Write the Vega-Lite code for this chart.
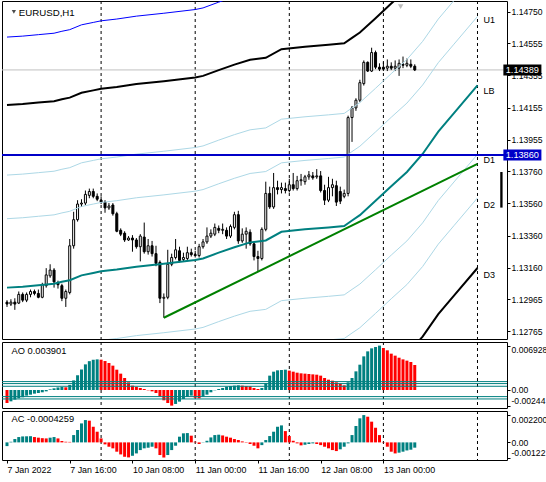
{
  "$schema": "https://vega.github.io/schema/vega-lite/v6.json",
  "background": "white",
  "padding": 0,
  "bounds": "flush",
  "spacing": 3,
  "config": {
    "font": "Liberation Sans",
    "view": {"stroke": "black", "strokeWidth": 1},
    "axis": {"labelFont": "Liberation Sans", "labelFontSize": 8.6, "labelColor": "black", "tickColor": "black", "tickSize": 3, "labelPadding": 1, "domain": false, "grid": false}
  },
  "datasets": {
    "seps": [{"i": 24}, {"i": 48}, {"i": 72}, {"i": 96}, {"i": 120}],
    "candles": [
      {"i":0,"o":1.12947,"h":1.12959,"l":1.12917,"c":1.12935},
      {"i":1,"o":1.12935,"h":1.12965,"l":1.12923,"c":1.12947},
      {"i":2,"o":1.12947,"h":1.12971,"l":1.12899,"c":1.12935},
      {"i":3,"o":1.12941,"h":1.13013,"l":1.12935,"c":1.12995},
      {"i":4,"o":1.12995,"h":1.13007,"l":1.12947,"c":1.12959},
      {"i":5,"o":1.12959,"h":1.13007,"l":1.12947,"c":1.12995},
      {"i":6,"o":1.12995,"h":1.13025,"l":1.12977,"c":1.13013},
      {"i":7,"o":1.13013,"h":1.13025,"l":1.12989,"c":1.13001},
      {"i":8,"o":1.13001,"h":1.13025,"l":1.12971,"c":1.12977},
      {"i":9,"o":1.12977,"h":1.13067,"l":1.12971,"c":1.13055},
      {"i":10,"o":1.13049,"h":1.13158,"l":1.13037,"c":1.13116},
      {"i":11,"o":1.1311,"h":1.13182,"l":1.13098,"c":1.13146},
      {"i":12,"o":1.13146,"h":1.13158,"l":1.13037,"c":1.13073},
      {"i":13,"o":1.13067,"h":1.1308,"l":1.13031,"c":1.13055},
      {"i":14,"o":1.13049,"h":1.13061,"l":1.12953,"c":1.12971},
      {"i":15,"o":1.12971,"h":1.13025,"l":1.12917,"c":1.13013},
      {"i":16,"o":1.13007,"h":1.13339,"l":1.12995,"c":1.13297},
      {"i":17,"o":1.13297,"h":1.13508,"l":1.13279,"c":1.13459},
      {"i":18,"o":1.13459,"h":1.1358,"l":1.13447,"c":1.13556},
      {"i":19,"o":1.13556,"h":1.13586,"l":1.13538,"c":1.13562},
      {"i":20,"o":1.13562,"h":1.1364,"l":1.1355,"c":1.13616},
      {"i":21,"o":1.1361,"h":1.13652,"l":1.13592,"c":1.13634},
      {"i":22,"o":1.13634,"h":1.13652,"l":1.13592,"c":1.13604},
      {"i":23,"o":1.13604,"h":1.13622,"l":1.13574,"c":1.13586},
      {"i":24,"o":1.1358,"h":1.13604,"l":1.13556,"c":1.13568},
      {"i":25,"o":1.13568,"h":1.1358,"l":1.13502,"c":1.13532},
      {"i":26,"o":1.13532,"h":1.13562,"l":1.1352,"c":1.13544},
      {"i":27,"o":1.1355,"h":1.13562,"l":1.13484,"c":1.13496},
      {"i":28,"o":1.13496,"h":1.13508,"l":1.13381,"c":1.13387},
      {"i":29,"o":1.13393,"h":1.13405,"l":1.13357,"c":1.13369},
      {"i":30,"o":1.13375,"h":1.13387,"l":1.13321,"c":1.13333},
      {"i":31,"o":1.13333,"h":1.13357,"l":1.13327,"c":1.13345},
      {"i":32,"o":1.13345,"h":1.13363,"l":1.1326,"c":1.13333},
      {"i":33,"o":1.13333,"h":1.13345,"l":1.13279,"c":1.13291},
      {"i":34,"o":1.13291,"h":1.13369,"l":1.132,"c":1.13357},
      {"i":35,"o":1.13351,"h":1.13441,"l":1.13248,"c":1.1326},
      {"i":36,"o":1.1326,"h":1.13339,"l":1.13242,"c":1.13297},
      {"i":37,"o":1.13297,"h":1.13327,"l":1.1323,"c":1.13248},
      {"i":38,"o":1.13248,"h":1.13297,"l":1.1317,"c":1.13188},
      {"i":39,"o":1.13194,"h":1.13206,"l":1.12941,"c":1.12971},
      {"i":40,"o":1.12971,"h":1.13001,"l":1.1285,"c":1.12977},
      {"i":41,"o":1.12977,"h":1.13272,"l":1.12965,"c":1.13182},
      {"i":42,"o":1.13182,"h":1.13248,"l":1.1317,"c":1.13224},
      {"i":43,"o":1.13224,"h":1.13339,"l":1.13212,"c":1.13272},
      {"i":44,"o":1.13266,"h":1.13291,"l":1.13194,"c":1.13206},
      {"i":45,"o":1.13212,"h":1.13254,"l":1.132,"c":1.13224},
      {"i":46,"o":1.13218,"h":1.13291,"l":1.13206,"c":1.13254},
      {"i":47,"o":1.13254,"h":1.13279,"l":1.1323,"c":1.13242},
      {"i":48,"o":1.13242,"h":1.13266,"l":1.13224,"c":1.13236},
      {"i":49,"o":1.13236,"h":1.13309,"l":1.13224,"c":1.13291},
      {"i":50,"o":1.13291,"h":1.13339,"l":1.13279,"c":1.13321},
      {"i":51,"o":1.13321,"h":1.13411,"l":1.13309,"c":1.13357},
      {"i":52,"o":1.13357,"h":1.13399,"l":1.13345,"c":1.13375},
      {"i":53,"o":1.13369,"h":1.13435,"l":1.13357,"c":1.13411},
      {"i":54,"o":1.13405,"h":1.13423,"l":1.13375,"c":1.13393},
      {"i":55,"o":1.13393,"h":1.13435,"l":1.13369,"c":1.13399},
      {"i":56,"o":1.13393,"h":1.13411,"l":1.13339,"c":1.13357},
      {"i":57,"o":1.13357,"h":1.13429,"l":1.13345,"c":1.13417},
      {"i":58,"o":1.13411,"h":1.13508,"l":1.13399,"c":1.1349},
      {"i":59,"o":1.1349,"h":1.13514,"l":1.13309,"c":1.13327},
      {"i":60,"o":1.13327,"h":1.13405,"l":1.13315,"c":1.13369},
      {"i":61,"o":1.13369,"h":1.13411,"l":1.13279,"c":1.13387},
      {"i":62,"o":1.13381,"h":1.13399,"l":1.13297,"c":1.13309},
      {"i":63,"o":1.13309,"h":1.13321,"l":1.13206,"c":1.1323},
      {"i":64,"o":1.1323,"h":1.13266,"l":1.13135,"c":1.13218},
      {"i":65,"o":1.13218,"h":1.13411,"l":1.13206,"c":1.13399},
      {"i":66,"o":1.13399,"h":1.13695,"l":1.13387,"c":1.13622},
      {"i":67,"o":1.13622,"h":1.13664,"l":1.13526,"c":1.13538},
      {"i":68,"o":1.13538,"h":1.13749,"l":1.13526,"c":1.13658},
      {"i":69,"o":1.13658,"h":1.13701,"l":1.13616,"c":1.13646},
      {"i":70,"o":1.13646,"h":1.13689,"l":1.13622,"c":1.13658},
      {"i":71,"o":1.13652,"h":1.13689,"l":1.13622,"c":1.1364},
      {"i":72,"o":1.1364,"h":1.13713,"l":1.13628,"c":1.13676},
      {"i":73,"o":1.13676,"h":1.13749,"l":1.1364,"c":1.13652},
      {"i":74,"o":1.13652,"h":1.13731,"l":1.1364,"c":1.13701},
      {"i":75,"o":1.13701,"h":1.13743,"l":1.1367,"c":1.13707},
      {"i":76,"o":1.13695,"h":1.13737,"l":1.13676,"c":1.13725},
      {"i":77,"o":1.13725,"h":1.13761,"l":1.13707,"c":1.13737},
      {"i":78,"o":1.13731,"h":1.13755,"l":1.13707,"c":1.13719},
      {"i":79,"o":1.13725,"h":1.13773,"l":1.13713,"c":1.13731},
      {"i":80,"o":1.13731,"h":1.13761,"l":1.13628,"c":1.1364},
      {"i":81,"o":1.1364,"h":1.13676,"l":1.1355,"c":1.1358},
      {"i":82,"o":1.1358,"h":1.13725,"l":1.13568,"c":1.13658},
      {"i":83,"o":1.13658,"h":1.13713,"l":1.13604,"c":1.13676},
      {"i":84,"o":1.1367,"h":1.13701,"l":1.13544,"c":1.13568},
      {"i":85,"o":1.13634,"h":1.13664,"l":1.13556,"c":1.13574},
      {"i":86,"o":1.13604,"h":1.13646,"l":1.13592,"c":1.13622},
      {"i":87,"o":1.13622,"h":1.14105,"l":1.13604,"c":1.14093},
      {"i":88,"o":1.14093,"h":1.14165,"l":1.13942,"c":1.14153},
      {"i":89,"o":1.14153,"h":1.14213,"l":1.14135,"c":1.14201},
      {"i":90,"o":1.14201,"h":1.14328,"l":1.14189,"c":1.1431},
      {"i":91,"o":1.14304,"h":1.14448,"l":1.14292,"c":1.14436},
      {"i":92,"o":1.14436,"h":1.14442,"l":1.14376,"c":1.14382},
      {"i":93,"o":1.14382,"h":1.14527,"l":1.14376,"c":1.14497},
      {"i":94,"o":1.14497,"h":1.14509,"l":1.14394,"c":1.14406},
      {"i":95,"o":1.14406,"h":1.1443,"l":1.14382,"c":1.14394},
      {"i":96,"o":1.14406,"h":1.14436,"l":1.14382,"c":1.14394},
      {"i":97,"o":1.144,"h":1.14454,"l":1.14382,"c":1.14412},
      {"i":98,"o":1.14412,"h":1.14436,"l":1.14388,"c":1.144},
      {"i":99,"o":1.144,"h":1.14448,"l":1.14382,"c":1.14412},
      {"i":100,"o":1.144,"h":1.14454,"l":1.14352,"c":1.1443},
      {"i":101,"o":1.14424,"h":1.14472,"l":1.144,"c":1.14418},
      {"i":102,"o":1.14418,"h":1.1446,"l":1.14406,"c":1.1443},
      {"i":103,"o":1.14424,"h":1.14454,"l":1.144,"c":1.14412},
      {"i":104,"o":1.14412,"h":1.14424,"l":1.14382,"c":1.14389}
    ],
    "bands": [
      {"i":0,"lb":1.13037,"blue":1.14593,"up2":1.14171,"ua":1.13736,"u1":1.13465,"d1":1.12609,"d2":1.12338,"d3":1.11903},
      {"i":4,"lb":1.13043,"blue":1.14599,"up2":1.14177,"ua":1.13742,"u1":1.13471,"d1":1.12615,"d2":1.12344,"d3":1.11909},
      {"i":8,"lb":1.13052,"blue":1.14608,"up2":1.14186,"ua":1.13751,"u1":1.1348,"d1":1.12624,"d2":1.12353,"d3":1.11918},
      {"i":12,"lb":1.13061,"blue":1.14617,"up2":1.14195,"ua":1.1376,"u1":1.13489,"d1":1.12633,"d2":1.12362,"d3":1.11927},
      {"i":14,"lb":1.13073,"blue":1.14629,"up2":1.14207,"ua":1.13772,"u1":1.13501,"d1":1.12645,"d2":1.12374,"d3":1.11939},
      {"i":16,"lb":1.13083,"blue":1.14639,"up2":1.14217,"ua":1.13782,"u1":1.13511,"d1":1.12655,"d2":1.12384,"d3":1.11949},
      {"i":19,"lb":1.13113,"blue":1.14669,"up2":1.14247,"ua":1.13812,"u1":1.13541,"d1":1.12685,"d2":1.12414,"d3":1.11979},
      {"i":22,"lb":1.13128,"blue":1.14684,"up2":1.14262,"ua":1.13827,"u1":1.13556,"d1":1.127,"d2":1.12429,"d3":1.11994},
      {"i":24,"lb":1.13138,"blue":1.14694,"up2":1.14272,"ua":1.13837,"u1":1.13566,"d1":1.1271,"d2":1.12439,"d3":1.12004},
      {"i":28,"lb":1.13149,"blue":1.14705,"up2":1.14283,"ua":1.13848,"u1":1.13577,"d1":1.12721,"d2":1.1245,"d3":1.12015},
      {"i":33,"lb":1.13167,"blue":1.14723,"up2":1.14301,"ua":1.13866,"u1":1.13595,"d1":1.12739,"d2":1.12468,"d3":1.12033},
      {"i":40,"lb":1.13185,"blue":1.14741,"up2":1.14319,"ua":1.13884,"u1":1.13613,"d1":1.12757,"d2":1.12486,"d3":1.12051},
      {"i":48,"lb":1.13208,"blue":1.14764,"up2":1.14342,"ua":1.13907,"u1":1.13636,"d1":1.1278,"d2":1.12509,"d3":1.12074},
      {"i":50,"lb":1.13218,"blue":1.14774,"up2":1.14352,"ua":1.13917,"u1":1.13646,"d1":1.1279,"d2":1.12519,"d3":1.12084},
      {"i":54,"lb":1.13254,"blue":1.1481,"up2":1.14388,"ua":1.13953,"u1":1.13682,"d1":1.12826,"d2":1.12555,"d3":1.1212},
      {"i":58,"lb":1.13288,"blue":1.14844,"up2":1.14422,"ua":1.13987,"u1":1.13716,"d1":1.1286,"d2":1.12589,"d3":1.12154},
      {"i":62,"lb":1.13318,"blue":1.14874,"up2":1.14452,"ua":1.14017,"u1":1.13746,"d1":1.1289,"d2":1.12619,"d3":1.12184},
      {"i":66,"lb":1.1333,"blue":1.14886,"up2":1.14464,"ua":1.14029,"u1":1.13758,"d1":1.12902,"d2":1.12631,"d3":1.12196},
      {"i":70,"lb":1.13384,"blue":1.1494,"up2":1.14518,"ua":1.14083,"u1":1.13812,"d1":1.12956,"d2":1.12685,"d3":1.1225},
      {"i":76,"lb":1.13399,"blue":1.14955,"up2":1.14533,"ua":1.14098,"u1":1.13827,"d1":1.12971,"d2":1.127,"d3":1.12265},
      {"i":82,"lb":1.13411,"blue":1.14967,"up2":1.14545,"ua":1.1411,"u1":1.13839,"d1":1.12983,"d2":1.12712,"d3":1.12277},
      {"i":86,"lb":1.1342,"blue":1.14976,"up2":1.14554,"ua":1.14119,"u1":1.13848,"d1":1.12992,"d2":1.12721,"d3":1.12286},
      {"i":88,"lb":1.13454,"blue":1.1501,"up2":1.14588,"ua":1.14153,"u1":1.13882,"d1":1.13026,"d2":1.12755,"d3":1.1232},
      {"i":90,"lb":1.13487,"blue":1.15043,"up2":1.14621,"ua":1.14186,"u1":1.13915,"d1":1.13059,"d2":1.12788,"d3":1.12353},
      {"i":94,"lb":1.13576,"blue":1.15132,"up2":1.1471,"ua":1.14275,"u1":1.14004,"d1":1.13148,"d2":1.12877,"d3":1.12442},
      {"i":98,"lb":1.13667,"blue":1.15223,"up2":1.14801,"ua":1.14366,"u1":1.14095,"d1":1.13239,"d2":1.12968,"d3":1.12533},
      {"i":102,"lb":1.13755,"blue":1.15311,"up2":1.14889,"ua":1.14454,"u1":1.14183,"d1":1.13327,"d2":1.13056,"d3":1.12621},
      {"i":106,"lb":1.13867,"blue":1.15423,"up2":1.15001,"ua":1.14566,"u1":1.14295,"d1":1.13439,"d2":1.13168,"d3":1.12733},
      {"i":110,"lb":1.14006,"blue":1.15562,"up2":1.1514,"ua":1.14705,"u1":1.14434,"d1":1.13578,"d2":1.13307,"d3":1.12872},
      {"i":114,"lb":1.14121,"blue":1.15677,"up2":1.15255,"ua":1.1482,"u1":1.14549,"d1":1.13693,"d2":1.13422,"d3":1.12987},
      {"i":120,"lb":1.14293,"blue":1.15849,"up2":1.15427,"ua":1.14992,"u1":1.14721,"d1":1.13865,"d2":1.13594,"d3":1.13159}
    ],
    "ao": [
      {"i":0,"v":-0.00203,"up":false},{"i":1,"v":-0.00177,"up":true},{"i":2,"v":-0.00151,"up":true},{"i":3,"v":-0.0013,"up":true},
      {"i":4,"v":-0.00114,"up":true},{"i":5,"v":-0.00088,"up":true},{"i":6,"v":-0.00073,"up":true},{"i":7,"v":-0.00057,"up":true},
      {"i":8,"v":-0.00047,"up":true},{"i":9,"v":-0.00036,"up":true},{"i":10,"v":-0.00021,"up":true},{"i":11,"v":0.0001,"up":true},
      {"i":12,"v":0.00026,"up":true},{"i":13,"v":0.0004,"up":true},{"i":14,"v":0.00047,"up":true},{"i":15,"v":0.00042,"up":false},
      {"i":16,"v":0.0008,"up":true},{"i":17,"v":0.0015,"up":true},{"i":18,"v":0.0023,"up":true},{"i":19,"v":0.0032,"up":true},
      {"i":20,"v":0.004,"up":true},{"i":21,"v":0.0045,"up":true},{"i":22,"v":0.00472,"up":true},{"i":23,"v":0.00478,"up":true},
      {"i":24,"v":0.00473,"up":false},{"i":25,"v":0.00452,"up":false},{"i":26,"v":0.00421,"up":false},{"i":27,"v":0.0038,"up":false},
      {"i":28,"v":0.00317,"up":false},{"i":29,"v":0.00255,"up":false},{"i":30,"v":0.00187,"up":false},{"i":31,"v":0.0012,"up":false},
      {"i":32,"v":0.00068,"up":false},{"i":33,"v":0.00047,"up":false},{"i":34,"v":0.00031,"up":false},{"i":35,"v":0.00016,"up":false},
      {"i":36,"v":-0.00005,"up":false},{"i":37,"v":-0.00021,"up":false},{"i":38,"v":-0.00047,"up":false},{"i":39,"v":-0.00099,"up":false},
      {"i":40,"v":-0.00161,"up":false},{"i":41,"v":-0.00203,"up":false},{"i":42,"v":-0.00244,"up":false},{"i":43,"v":-0.00218,"up":true},
      {"i":44,"v":-0.00182,"up":true},{"i":45,"v":-0.0014,"up":true},{"i":46,"v":-0.00109,"up":true},{"i":47,"v":-0.00088,"up":true},
      {"i":48,"v":-0.0012,"up":false},{"i":49,"v":-0.0013,"up":false},{"i":50,"v":-0.00104,"up":true},{"i":51,"v":-0.00073,"up":true},
      {"i":52,"v":-0.00036,"up":true},{"i":53,"v":-0.00005,"up":true},{"i":54,"v":0.00016,"up":true},{"i":55,"v":0.00031,"up":true},
      {"i":56,"v":0.00052,"up":true},{"i":57,"v":0.00062,"up":true},{"i":58,"v":0.00068,"up":true},{"i":59,"v":0.00073,"up":true},
      {"i":60,"v":0.00068,"up":false},{"i":61,"v":0.00062,"up":false},{"i":62,"v":0.00057,"up":false},{"i":63,"v":0.00031,"up":false},
      {"i":64,"v":0.00016,"up":false},{"i":65,"v":0.00031,"up":true},{"i":66,"v":0.00109,"up":true},{"i":67,"v":0.00224,"up":true},
      {"i":68,"v":0.00286,"up":true},{"i":69,"v":0.00307,"up":true},{"i":70,"v":0.00312,"up":true},{"i":71,"v":0.00317,"up":true},
      {"i":72,"v":0.00302,"up":false},{"i":73,"v":0.00286,"up":false},{"i":74,"v":0.0027,"up":false},{"i":75,"v":0.0026,"up":false},
      {"i":76,"v":0.00255,"up":false},{"i":77,"v":0.0025,"up":false},{"i":78,"v":0.00244,"up":false},{"i":79,"v":0.00239,"up":false},
      {"i":80,"v":0.00224,"up":false},{"i":81,"v":0.00187,"up":false},{"i":82,"v":0.00161,"up":false},{"i":83,"v":0.00146,"up":false},
      {"i":84,"v":0.0012,"up":false},{"i":85,"v":0.00094,"up":false},{"i":86,"v":0.00073,"up":false},{"i":87,"v":0.0012,"up":true},
      {"i":88,"v":0.00187,"up":true},{"i":89,"v":0.00291,"up":true},{"i":90,"v":0.00395,"up":true},{"i":91,"v":0.00525,"up":true},
      {"i":92,"v":0.00603,"up":true},{"i":93,"v":0.0065,"up":true},{"i":94,"v":0.00671,"up":true},{"i":95,"v":0.006928,"up":true},
      {"i":96,"v":0.00655,"up":false},{"i":97,"v":0.00619,"up":false},{"i":98,"v":0.00567,"up":false},{"i":99,"v":0.00536,"up":false},
      {"i":100,"v":0.00504,"up":false},{"i":101,"v":0.00478,"up":false},{"i":102,"v":0.00458,"up":false},{"i":103,"v":0.00437,"up":false},
      {"i":104,"v":0.003901,"up":false}
    ],
    "ac": [
      {"i":0,"v":-0.0003,"up":true},{"i":1,"v":0.00005,"up":true},{"i":2,"v":0.00027,"up":true},{"i":3,"v":0.00043,"up":true},
      {"i":4,"v":0.00048,"up":true},{"i":5,"v":0.00049,"up":true},{"i":6,"v":0.0005,"up":true},{"i":7,"v":0.00043,"up":false},
      {"i":8,"v":0.00038,"up":false},{"i":9,"v":0.00034,"up":false},{"i":10,"v":0.00032,"up":false},{"i":11,"v":0.00038,"up":true},
      {"i":12,"v":0.00043,"up":true},{"i":13,"v":0.00032,"up":false},{"i":14,"v":0.00011,"up":false},{"i":15,"v":0.00005,"up":false},
      {"i":16,"v":0.00004,"up":false},{"i":17,"v":0.00059,"up":true},{"i":18,"v":0.001,"up":true},{"i":19,"v":0.00153,"up":true},
      {"i":20,"v":0.0018,"up":true},{"i":21,"v":0.00175,"up":false},{"i":22,"v":0.00126,"up":false},{"i":23,"v":0.00086,"up":false},
      {"i":24,"v":0.00032,"up":false},{"i":25,"v":-0.00016,"up":false},{"i":26,"v":-0.00035,"up":false},{"i":27,"v":-0.00048,"up":false},
      {"i":28,"v":-0.00075,"up":false},{"i":29,"v":-0.00097,"up":false},{"i":30,"v":-0.00116,"up":false},{"i":31,"v":-0.00121,"up":false},
      {"i":32,"v":-0.00108,"up":true},{"i":33,"v":-0.00089,"up":true},{"i":34,"v":-0.00062,"up":true},{"i":35,"v":-0.00048,"up":true},
      {"i":36,"v":-0.00043,"up":true},{"i":37,"v":-0.00035,"up":true},{"i":38,"v":-0.00048,"up":false},{"i":39,"v":-0.00102,"up":false},
      {"i":40,"v":-0.00122,"up":false},{"i":41,"v":-0.00102,"up":true},{"i":42,"v":-0.00062,"up":true},{"i":43,"v":-0.00027,"up":true},
      {"i":44,"v":0.00046,"up":true},{"i":45,"v":0.00073,"up":true},{"i":46,"v":0.00075,"up":true},{"i":47,"v":0.00054,"up":false},
      {"i":48,"v":0.00005,"up":false},{"i":49,"v":-0.00013,"up":false},{"i":50,"v":0.00002,"up":true},{"i":51,"v":0.00013,"up":true},
      {"i":52,"v":0.0004,"up":true},{"i":53,"v":0.00059,"up":true},{"i":54,"v":0.00062,"up":true},{"i":55,"v":0.00056,"up":false},
      {"i":56,"v":0.00046,"up":false},{"i":57,"v":0.00038,"up":false},{"i":58,"v":0.00027,"up":false},{"i":59,"v":0.00019,"up":false},
      {"i":60,"v":0.00008,"up":false},{"i":61,"v":-0.00003,"up":false},{"i":62,"v":-0.00013,"up":false},{"i":63,"v":-0.00027,"up":false},
      {"i":64,"v":-0.00048,"up":false},{"i":65,"v":-0.00022,"up":true},{"i":66,"v":0.00019,"up":true},{"i":67,"v":0.00051,"up":true},
      {"i":68,"v":0.00086,"up":true},{"i":69,"v":0.00126,"up":true},{"i":70,"v":0.00137,"up":true},{"i":71,"v":0.00091,"up":false},
      {"i":72,"v":0.00051,"up":false},{"i":73,"v":0.00013,"up":false},{"i":74,"v":-0.00008,"up":false},{"i":75,"v":-0.00024,"up":false},
      {"i":76,"v":-0.00019,"up":true},{"i":77,"v":-0.00013,"up":true},{"i":78,"v":-0.00008,"up":true},{"i":79,"v":-0.00013,"up":false},
      {"i":80,"v":-0.00022,"up":false},{"i":81,"v":-0.00035,"up":false},{"i":82,"v":-0.00048,"up":false},{"i":83,"v":-0.00062,"up":false},
      {"i":84,"v":-0.0007,"up":false},{"i":85,"v":-0.00056,"up":true},{"i":86,"v":-0.00035,"up":true},{"i":87,"v":-0.00008,"up":true},
      {"i":88,"v":0.00059,"up":true},{"i":89,"v":0.00132,"up":true},{"i":90,"v":0.00194,"up":true},{"i":91,"v":0.0022,"up":true},
      {"i":92,"v":0.00207,"up":false},{"i":93,"v":0.00167,"up":false},{"i":94,"v":0.00118,"up":false},{"i":95,"v":0.00059,"up":false},
      {"i":96,"v":-0.00003,"up":false},{"i":97,"v":-0.00035,"up":false},{"i":98,"v":-0.00075,"up":false},{"i":99,"v":-0.00089,"up":false},
      {"i":100,"v":-0.00083,"up":true},{"i":101,"v":-0.00075,"up":true},{"i":102,"v":-0.00065,"up":true},{"i":103,"v":-0.00059,"up":true},
      {"i":104,"v":-0.0004259,"up":true}
    ]
  },
  "vconcat": [
    {
      "width": 505,
      "height": 338,
      "layer": [
        {
          "data": {"name": "seps"},
          "mark": {"type": "rule", "color": "black", "strokeWidth": 1, "strokeDash": [3, 3]},
          "encoding": {"x": {"field": "i", "type": "quantitative", "scale": {"domain": [0, 126.25], "nice": false, "zero": false}, "axis": null}}
        },
        {
          "data": {"values": [{"p": 1.14389}]},
          "mark": {"type": "rule", "color": "#c0c0c0", "strokeWidth": 1},
          "encoding": {"y": {"field": "p", "type": "quantitative", "scale": {"domain": [1.12749, 1.14786], "nice": false, "zero": false},
            "axis": {"orient": "right", "title": null, "values": [1.1475, 1.14555, 1.14355, 1.14155, 1.13955, 1.1376, 1.1356, 1.1336, 1.1316, 1.12965, 1.12765], "format": ".5f"}}}
        },
        {
          "data": {"name": "candles"},
          "mark": {"type": "rule", "color": "black", "strokeWidth": 1, "clip": true},
          "encoding": {
            "x": {"field": "i", "type": "quantitative", "scale": {"domain": [0, 126.25], "nice": false, "zero": false}, "axis": null},
            "y": {"field": "l", "type": "quantitative", "scale": {"domain": [1.12749, 1.14786], "nice": false, "zero": false},
              "axis": {"orient": "right", "title": null, "values": [1.1475, 1.14555, 1.14355, 1.14155, 1.13955, 1.1376, 1.1356, 1.1336, 1.1316, 1.12965, 1.12765], "format": ".5f"}},
            "y2": {"field": "h"}
          }
        },
        {
          "data": {"name": "candles"},
          "mark": {"type": "bar", "size": 2, "stroke": "black", "strokeWidth": 1, "clip": true},
          "encoding": {
            "x": {"field": "i", "type": "quantitative", "scale": {"domain": [0, 126.25], "nice": false, "zero": false}, "axis": null},
            "y": {"field": "o", "type": "quantitative", "scale": {"domain": [1.12749, 1.14786], "nice": false, "zero": false},
              "axis": {"orient": "right", "title": null, "values": [1.1475, 1.14555, 1.14355, 1.14155, 1.13955, 1.1376, 1.1356, 1.1336, 1.1316, 1.12965, 1.12765], "format": ".5f"}},
            "y2": {"field": "c"},
            "fill": {"condition": {"test": "datum.c < datum.o", "value": "black"}, "value": "white"}
          }
        },
        {
          "data": {"name": "bands"},
          "mark": {"type": "line", "color": "#0000ff", "strokeWidth": 1, "clip": true},
          "encoding": {
            "x": {"field": "i", "type": "quantitative", "scale": {"domain": [0, 126.25], "nice": false, "zero": false}, "axis": null},
            "y": {"field": "blue", "type": "quantitative", "scale": {"domain": [1.12749, 1.14786], "nice": false, "zero": false},
              "axis": {"orient": "right", "title": null, "values": [1.1475, 1.14555, 1.14355, 1.14155, 1.13955, 1.1376, 1.1356, 1.1336, 1.1316, 1.12965, 1.12765], "format": ".5f"}}
          }
        },
        {
          "data": {"name": "bands"},
          "mark": {"type": "line", "color": "#add8e6", "strokeWidth": 1, "clip": true},
          "encoding": {
            "x": {"field": "i", "type": "quantitative", "scale": {"domain": [0, 126.25], "nice": false, "zero": false}, "axis": null},
            "y": {"field": "ua", "type": "quantitative", "scale": {"domain": [1.12749, 1.14786], "nice": false, "zero": false},
              "axis": {"orient": "right", "title": null, "values": [1.1475, 1.14555, 1.14355, 1.14155, 1.13955, 1.1376, 1.1356, 1.1336, 1.1316, 1.12965, 1.12765], "format": ".5f"}}
          }
        },
        {
          "data": {"name": "bands"},
          "mark": {"type": "line", "color": "#add8e6", "strokeWidth": 1, "clip": true},
          "encoding": {
            "x": {"field": "i", "type": "quantitative", "scale": {"domain": [0, 126.25], "nice": false, "zero": false}, "axis": null},
            "y": {"field": "u1", "type": "quantitative", "scale": {"domain": [1.12749, 1.14786], "nice": false, "zero": false},
              "axis": {"orient": "right", "title": null, "values": [1.1475, 1.14555, 1.14355, 1.14155, 1.13955, 1.1376, 1.1356, 1.1336, 1.1316, 1.12965, 1.12765], "format": ".5f"}}
          }
        },
        {
          "data": {"name": "bands"},
          "mark": {"type": "line", "color": "#add8e6", "strokeWidth": 1, "clip": true},
          "encoding": {
            "x": {"field": "i", "type": "quantitative", "scale": {"domain": [0, 126.25], "nice": false, "zero": false}, "axis": null},
            "y": {"field": "d1", "type": "quantitative", "scale": {"domain": [1.12749, 1.14786], "nice": false, "zero": false},
              "axis": {"orient": "right", "title": null, "values": [1.1475, 1.14555, 1.14355, 1.14155, 1.13955, 1.1376, 1.1356, 1.1336, 1.1316, 1.12965, 1.12765], "format": ".5f"}}
          }
        },
        {
          "data": {"name": "bands"},
          "mark": {"type": "line", "color": "#add8e6", "strokeWidth": 1, "clip": true},
          "encoding": {
            "x": {"field": "i", "type": "quantitative", "scale": {"domain": [0, 126.25], "nice": false, "zero": false}, "axis": null},
            "y": {"field": "d2", "type": "quantitative", "scale": {"domain": [1.12749, 1.14786], "nice": false, "zero": false},
              "axis": {"orient": "right", "title": null, "values": [1.1475, 1.14555, 1.14355, 1.14155, 1.13955, 1.1376, 1.1356, 1.1336, 1.1316, 1.12965, 1.12765], "format": ".5f"}}
          }
        },
        {
          "data": {"name": "bands"},
          "mark": {"type": "line", "color": "black", "strokeWidth": 2, "clip": true},
          "encoding": {
            "x": {"field": "i", "type": "quantitative", "scale": {"domain": [0, 126.25], "nice": false, "zero": false}, "axis": null},
            "y": {"field": "up2", "type": "quantitative", "scale": {"domain": [1.12749, 1.14786], "nice": false, "zero": false},
              "axis": {"orient": "right", "title": null, "values": [1.1475, 1.14555, 1.14355, 1.14155, 1.13955, 1.1376, 1.1356, 1.1336, 1.1316, 1.12965, 1.12765], "format": ".5f"}}
          }
        },
        {
          "data": {"name": "bands"},
          "mark": {"type": "line", "color": "black", "strokeWidth": 2, "clip": true},
          "encoding": {
            "x": {"field": "i", "type": "quantitative", "scale": {"domain": [0, 126.25], "nice": false, "zero": false}, "axis": null},
            "y": {"field": "d3", "type": "quantitative", "scale": {"domain": [1.12749, 1.14786], "nice": false, "zero": false},
              "axis": {"orient": "right", "title": null, "values": [1.1475, 1.14555, 1.14355, 1.14155, 1.13955, 1.1376, 1.1356, 1.1336, 1.1316, 1.12965, 1.12765], "format": ".5f"}}
          }
        },
        {
          "data": {"name": "bands"},
          "mark": {"type": "line", "color": "#008080", "strokeWidth": 2, "clip": true},
          "encoding": {
            "x": {"field": "i", "type": "quantitative", "scale": {"domain": [0, 126.25], "nice": false, "zero": false}, "axis": null},
            "y": {"field": "lb", "type": "quantitative", "scale": {"domain": [1.12749, 1.14786], "nice": false, "zero": false},
              "axis": {"orient": "right", "title": null, "values": [1.1475, 1.14555, 1.14355, 1.14155, 1.13955, 1.1376, 1.1356, 1.1336, 1.1316, 1.12965, 1.12765], "format": ".5f"}}
          }
        },
        {
          "data": {"values": [{"p": 1.1386}]},
          "mark": {"type": "rule", "color": "#0000c8", "strokeWidth": 2},
          "encoding": {"y": {"field": "p", "type": "quantitative", "scale": {"domain": [1.12749, 1.14786], "nice": false, "zero": false},
            "axis": {"orient": "right", "title": null, "values": [1.1475, 1.14555, 1.14355, 1.14155, 1.13955, 1.1376, 1.1356, 1.1336, 1.1316, 1.12965, 1.12765], "format": ".5f"}}}
        },
        {
          "data": {"values": [{"i": 40, "p": 1.1285}, {"i": 120, "p": 1.13805}]},
          "mark": {"type": "line", "color": "#008000", "strokeWidth": 2},
          "encoding": {
            "x": {"field": "i", "type": "quantitative", "scale": {"domain": [0, 126.25], "nice": false, "zero": false}, "axis": null},
            "y": {"field": "p", "type": "quantitative", "scale": {"domain": [1.12749, 1.14786], "nice": false, "zero": false},
              "axis": {"orient": "right", "title": null, "values": [1.1475, 1.14555, 1.14355, 1.14155, 1.13955, 1.1376, 1.1356, 1.1336, 1.1316, 1.12965, 1.12765], "format": ".5f"}}
          }
        },
        {
          "data": {"values": [
            {"i": 121.5, "p": 1.14696, "t": "U1"},
            {"i": 121.5, "p": 1.14261, "t": "LB"},
            {"i": 121.5, "p": 1.13827, "t": "D1"},
            {"i": 121.5, "p": 1.13552, "t": "D2"},
            {"i": 121.5, "p": 1.13116, "t": "D3"}
          ]},
          "mark": {"type": "text", "align": "left", "baseline": "middle", "fontSize": 9, "color": "black"},
          "encoding": {
            "x": {"field": "i", "type": "quantitative", "scale": {"domain": [0, 126.25], "nice": false, "zero": false}, "axis": null},
            "y": {"field": "p", "type": "quantitative", "scale": {"domain": [1.12749, 1.14786], "nice": false, "zero": false},
              "axis": {"orient": "right", "title": null, "values": [1.1475, 1.14555, 1.14355, 1.14155, 1.13955, 1.1376, 1.1356, 1.1336, 1.1316, 1.12965, 1.12765], "format": ".5f"}},
            "text": {"field": "t"}
          }
        },
        {
          "data": {"values": [{"hi": 1.13755, "lo": 1.13534}]},
          "mark": {"type": "rect", "color": "black", "clip": false},
          "encoding": {
            "x": {"datum": 125.8, "type": "quantitative", "scale": {"domain": [0, 126.25], "nice": false, "zero": false}, "axis": null},
            "x2": {"datum": 126.4},
            "y": {"field": "hi", "type": "quantitative", "scale": {"domain": [1.12749, 1.14786], "nice": false, "zero": false},
              "axis": {"orient": "right", "title": null, "values": [1.1475, 1.14555, 1.14355, 1.14155, 1.13955, 1.1376, 1.1356, 1.1336, 1.1316, 1.12965, 1.12765], "format": ".5f"}},
            "y2": {"field": "lo"}
          }
        },
        {
          "data": {"values": [{"p": 1.14389, "k": "bid"}, {"p": 1.1386, "k": "level"}]},
          "mark": {"type": "bar", "size": 11, "orient": "horizontal", "clip": false},
          "encoding": {
            "x": {"datum": 126.6, "type": "quantitative", "scale": {"domain": [0, 126.25], "nice": false, "zero": false}, "axis": null},
            "x2": {"datum": 136.3},
            "y": {"field": "p", "type": "quantitative", "scale": {"domain": [1.12749, 1.14786], "nice": false, "zero": false},
              "axis": {"orient": "right", "title": null, "values": [1.1475, 1.14555, 1.14355, 1.14155, 1.13955, 1.1376, 1.1356, 1.1336, 1.1316, 1.12965, 1.12765], "format": ".5f"}},
            "color": {"field": "k", "type": "nominal", "scale": {"domain": ["bid", "level"], "range": ["black", "#0000c8"]}, "legend": null}
          }
        },
        {
          "data": {"values": [{"p": 1.14389}, {"p": 1.1386}]},
          "mark": {"type": "text", "align": "left", "baseline": "middle", "fontSize": 9.2, "color": "white"},
          "encoding": {
            "x": {"datum": 127.2, "type": "quantitative", "scale": {"domain": [0, 126.25], "nice": false, "zero": false}, "axis": null},
            "y": {"field": "p", "type": "quantitative", "scale": {"domain": [1.12749, 1.14786], "nice": false, "zero": false},
              "axis": {"orient": "right", "title": null, "values": [1.1475, 1.14555, 1.14355, 1.14155, 1.13955, 1.1376, 1.1356, 1.1336, 1.1316, 1.12965, 1.12765], "format": ".5f"}},
            "text": {"field": "p", "format": ".5f"}
          }
        },
        {
          "data": {"values": [{"t": "EURUSD,H1"}]},
          "mark": {"type": "text", "align": "left", "baseline": "middle", "fontSize": 9.7, "color": "black"},
          "encoding": {
            "x": {"datum": 3.0, "type": "quantitative", "scale": {"domain": [0, 126.25], "nice": false, "zero": false}, "axis": null},
            "y": {"datum": 1.14744, "type": "quantitative", "scale": {"domain": [1.12749, 1.14786], "nice": false, "zero": false},
              "axis": {"orient": "right", "title": null, "values": [1.1475, 1.14555, 1.14355, 1.14155, 1.13955, 1.1376, 1.1356, 1.1336, 1.1316, 1.12965, 1.12765], "format": ".5f"}},
            "text": {"field": "t"}
          }
        },
        {
          "data": {"values": [{"s": "menu"}]},
          "mark": {"type": "point", "shape": "triangle-down", "filled": true, "size": 18, "color": "black"},
          "encoding": {
            "x": {"datum": 1.75, "type": "quantitative", "scale": {"domain": [0, 126.25], "nice": false, "zero": false}, "axis": null},
            "y": {"datum": 1.1475, "type": "quantitative", "scale": {"domain": [1.12749, 1.14786], "nice": false, "zero": false},
              "axis": {"orient": "right", "title": null, "values": [1.1475, 1.14555, 1.14355, 1.14155, 1.13955, 1.1376, 1.1356, 1.1336, 1.1316, 1.12965, 1.12765], "format": ".5f"}}
          }
        },
        {
          "data": {"values": [{"s": "shift"}]},
          "mark": {"type": "point", "shape": "triangle-down", "filled": true, "size": 30, "color": "#a0a0a0", "clip": true},
          "encoding": {
            "x": {"datum": 100.4, "type": "quantitative", "scale": {"domain": [0, 126.25], "nice": false, "zero": false}, "axis": null},
            "y": {"datum": 1.14782, "type": "quantitative", "scale": {"domain": [1.12749, 1.14786], "nice": false, "zero": false},
              "axis": {"orient": "right", "title": null, "values": [1.1475, 1.14555, 1.14355, 1.14155, 1.13955, 1.1376, 1.1356, 1.1336, 1.1316, 1.12965, 1.12765], "format": ".5f"}}
          }
        }
      ]
    },
    {
      "width": 505,
      "height": 66,
      "layer": [
        {
          "data": {"name": "seps"},
          "mark": {"type": "rule", "color": "black", "strokeWidth": 1, "strokeDash": [3, 3]},
          "encoding": {"x": {"field": "i", "type": "quantitative", "scale": {"domain": [0, 126.25], "nice": false, "zero": false}, "axis": null}}
        },
        {
          "data": {"name": "ao"},
          "mark": {"type": "bar", "size": 3, "clip": true},
          "encoding": {
            "x": {"field": "i", "type": "quantitative", "scale": {"domain": [0, 126.25], "nice": false, "zero": false}, "axis": null},
            "y": {"field": "v", "type": "quantitative", "scale": {"domain": [-0.00281, 0.00749], "nice": false, "zero": false},
              "axis": {"orient": "right", "title": null, "values": [0.006928, 0, -0.00244], "labelExpr": "datum.value == 0 ? '0.00' : (datum.value > 0 ? '0.006928' : '-0.00244')", "labelFlush": 6}},
            "y2": {"datum": 0},
            "color": {"condition": {"test": "datum.up", "value": "#008080"}, "value": "#ff0000"}
          }
        },
        {
          "data": {"values": [{"v": 0.00131}, {"v": 0.001}, {"v": 0.00058}, {"v": -0.00103}, {"v": -0.0014}]},
          "mark": {"type": "rule", "color": "#008080", "strokeWidth": 1},
          "encoding": {"y": {"field": "v", "type": "quantitative", "scale": {"domain": [-0.00281, 0.00749], "nice": false, "zero": false},
            "axis": {"orient": "right", "title": null, "values": [0.006928, 0, -0.00244], "labelExpr": "datum.value == 0 ? '0.00' : (datum.value > 0 ? '0.006928' : '-0.00244')", "labelFlush": 6}}}
        },
        {
          "data": {"values": [{"t": "AO 0.003901"}]},
          "mark": {"type": "text", "align": "left", "baseline": "middle", "fontSize": 9.3, "color": "black"},
          "encoding": {
            "x": {"datum": 1.17, "type": "quantitative", "scale": {"domain": [0, 126.25], "nice": false, "zero": false}, "axis": null},
            "y": {"datum": 0.00604, "type": "quantitative", "scale": {"domain": [-0.00281, 0.00749], "nice": false, "zero": false},
              "axis": {"orient": "right", "title": null, "values": [0.006928, 0, -0.00244], "labelExpr": "datum.value == 0 ? '0.00' : (datum.value > 0 ? '0.006928' : '-0.00244')", "labelFlush": 6}},
            "text": {"field": "t"}
          }
        }
      ]
    },
    {
      "width": 505,
      "height": 49,
      "layer": [
        {
          "data": {"name": "seps"},
          "mark": {"type": "rule", "color": "black", "strokeWidth": 1, "strokeDash": [3, 3]},
          "encoding": {"x": {"field": "i", "type": "quantitative", "scale": {"domain": [0, 126.25], "nice": false, "zero": false},
            "axis": {"orient": "bottom", "title": null, "values": [0, 16, 32, 48, 64, 80, 96], "labelExpr": "['7 Jan 2022','7 Jan 16:00','10 Jan 08:00','11 Jan 00:00','11 Jan 16:00','12 Jan 08:00','13 Jan 00:00'][round(datum.value / 16)]", "labelAlign": "left", "labelBound": false, "labelFlush": false, "labelOverlap": false, "labelPadding": 2, "labelFontSize": 8.9}}}
        },
        {
          "data": {"name": "ac"},
          "mark": {"type": "bar", "size": 3, "clip": true},
          "encoding": {
            "x": {"field": "i", "type": "quantitative", "scale": {"domain": [0, 126.25], "nice": false, "zero": false},
              "axis": {"orient": "bottom", "title": null, "values": [0, 16, 32, 48, 64, 80, 96], "labelExpr": "['7 Jan 2022','7 Jan 16:00','10 Jan 08:00','11 Jan 00:00','11 Jan 16:00','12 Jan 08:00','13 Jan 00:00'][round(datum.value / 16)]", "labelAlign": "left", "labelBound": false, "labelFlush": false, "labelOverlap": false, "labelPadding": 2, "labelFontSize": 8.9}},
            "y": {"field": "v", "type": "quantitative", "scale": {"domain": [-0.00142, 0.00253], "nice": false, "zero": false},
              "axis": {"orient": "right", "title": null, "values": [0.0022, 0, -0.00122], "labelExpr": "datum.value == 0 ? '0.00' : (datum.value > 0 ? '0.002200' : '-0.00122')", "labelFlush": 6}},
            "y2": {"datum": 0},
            "color": {"condition": {"test": "datum.up", "value": "#008080"}, "value": "#ff0000"}
          }
        },
        {
          "data": {"values": [{"t": "AC -0.0004259"}]},
          "mark": {"type": "text", "align": "left", "baseline": "middle", "fontSize": 9.3, "color": "black"},
          "encoding": {
            "x": {"datum": 1.17, "type": "quantitative", "scale": {"domain": [0, 126.25], "nice": false, "zero": false},
              "axis": {"orient": "bottom", "title": null, "values": [0, 16, 32, 48, 64, 80, 96], "labelExpr": "['7 Jan 2022','7 Jan 16:00','10 Jan 08:00','11 Jan 00:00','11 Jan 16:00','12 Jan 08:00','13 Jan 00:00'][round(datum.value / 16)]", "labelAlign": "left", "labelBound": false, "labelFlush": false, "labelOverlap": false, "labelPadding": 2, "labelFontSize": 8.9}},
            "y": {"datum": 0.00189, "type": "quantitative", "scale": {"domain": [-0.00142, 0.00253], "nice": false, "zero": false},
              "axis": {"orient": "right", "title": null, "values": [0.0022, 0, -0.00122], "labelExpr": "datum.value == 0 ? '0.00' : (datum.value > 0 ? '0.002200' : '-0.00122')", "labelFlush": 6}},
            "text": {"field": "t"}
          }
        }
      ]
    }
  ]
}
